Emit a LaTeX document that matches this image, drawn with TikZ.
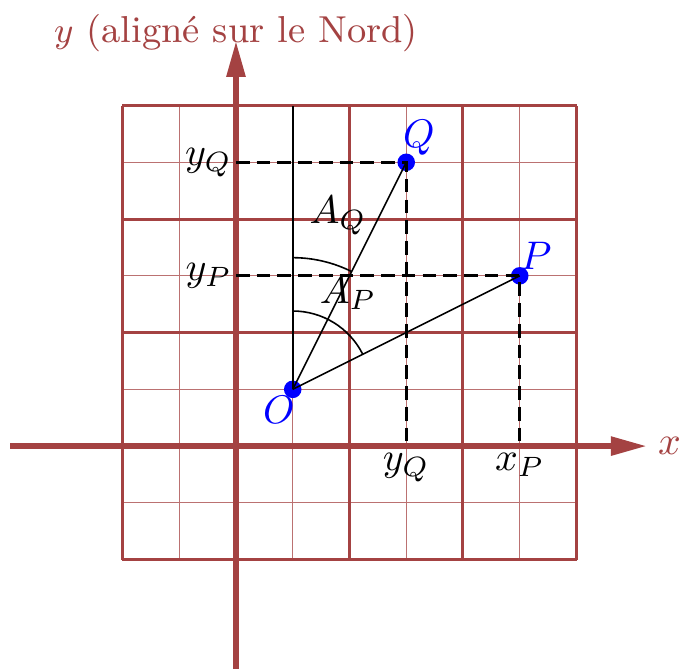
\documentclass[tikz,border=0pt]{standalone}
\usetikzlibrary{arrows.meta}
\definecolor{axred}{RGB}{164,66,66}
\begin{document}
\begin{tikzpicture}[x=1cm,y=1cm,
  minorgrid/.style={axred!75, line width=0.3pt},
  majorgrid/.style={axred, line width=0.75pt},
  axisline/.style={axred, line width=1.4pt, -{Triangle[length=9pt,width=4.5pt]}},
  dotpt/.style={circle, fill=blue, inner sep=0pt, minimum size=4.4pt},
  proj/.style={black, line width=0.8pt, dash pattern=on 3.4pt off 1.8pt},
  thinl/.style={black, line width=0.4pt},
  axlabel/.style={text=axred, inner sep=0pt},
  ptlabel/.style={text=blue, inner sep=0pt},
  txtlabel/.style={inner sep=0pt}]
\useasboundingbox (-2.079,-1.974) rectangle (3.912,3.930);
% grid
\draw[minorgrid] (-1,-1) grid[step=0.5] (3,3);
\draw[majorgrid] (-1,-1) grid[step=1] (3,3);
% axes
\coordinate (xs) at (-1.99,0);
\coordinate (xe) at (3.62,0);
\coordinate (ys) at (0,-1.96);
\coordinate (ye) at (0,3.57);
\draw[axisline] (xs) -- (xe);
\draw[axisline] (ys) -- (ye);
\node[axlabel] (xlab) at (3.82,0) {$x$};
\node[axlabel, font=\fontsize{9.4pt}{11pt}\selectfont] (ylab) at (0,3.64) {$y$ (aligné sur le Nord)};
% points
\node[dotpt] (O) at (0.5,0.5) {};
\node[dotpt] (Q) at (1.5,2.5) {};
\node[dotpt] (P) at (2.5,1.5) {};
% projections
\coordinate (yq) at (0,2.5);
\coordinate (xq) at (1.5,0);
\coordinate (yp) at (0,1.5);
\coordinate (xp) at (2.5,0);
\coordinate (top) at (0.5,3);
\draw[proj] (yq) -- (Q.center) -- (xq);
\draw[proj] (yp) -- (P.center) -- (xp);
% lines
\draw[thinl] (O.center) -- (top);
\draw[thinl] (O.center) -- (Q.center);
\draw[thinl] (O.center) -- (P.center);
\draw[thinl] (0.5,1.19) arc[start angle=90, end angle=26.565, radius=0.69];
\draw[thinl] (0.5,1.66) arc[start angle=90, end angle=63.435, radius=1.16];
% labels
\node[ptlabel] (Ql) at (1.612,2.714) {$Q$};
\node[ptlabel] (Pl) at (2.643,1.674) {$P$};
\node[ptlabel] (Ol) at (0.379,0.317) {$O$};
\node[txtlabel, anchor=east] (yql) at (-0.03,2.5) {$y_Q$};
\node[txtlabel, anchor=east] (ypl) at (-0.03,1.5) {$y_P$};
\node[txtlabel, anchor=north] (yqb) at (1.5,-0.06) {$y_Q$};
\node[txtlabel, anchor=north] (xpb) at (2.5,-0.06) {$x_P$};
\node[txtlabel] (AQ) at (0.899,2.035) {$A_Q$};
\node[txtlabel] (AP) at (0.987,1.348) {$A_P$};
\end{tikzpicture}
\end{document}
